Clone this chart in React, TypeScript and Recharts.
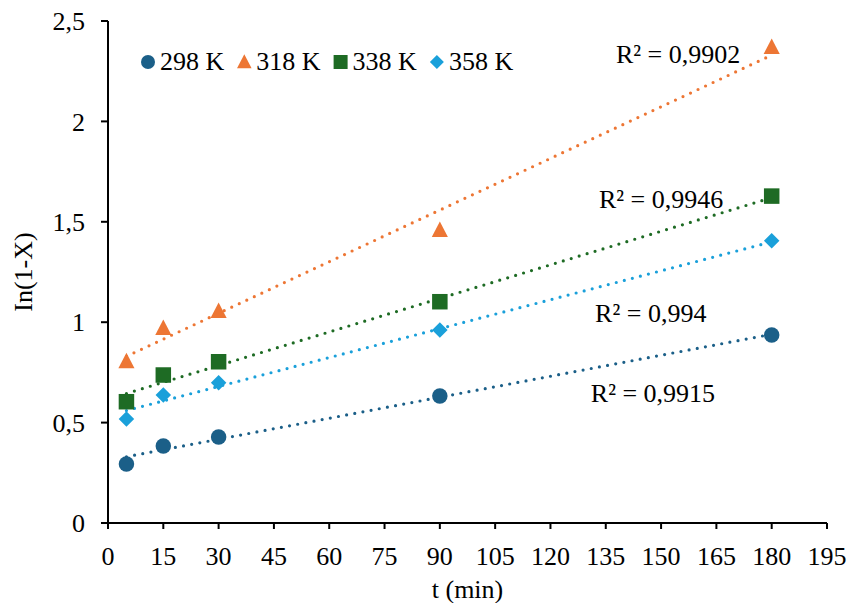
import {
  ComposedChart,
  XAxis,
  YAxis,
  Line,
  Scatter,
  Legend,
  ReferenceDot,
  Label,
} from "recharts";

// tempos de amostragem (min)
const times = [5, 15, 30, 90, 180];

// ln(1-X), por temperatura
const k298 = [0.294, 0.383, 0.428, 0.632, 0.936];
const k318 = [0.806, 0.971, 1.056, 1.459, 2.37];
const k338 = [0.604, 0.737, 0.803, 1.102, 1.628];
const k358 = [0.518, 0.637, 0.699, 0.961, 1.406];

// linhas de tendência: extremos (t = 5 e t = 180)
const trendTimes = [5, 180];
const trend298 = [0.33, 0.94];
const trend318 = [0.83, 2.33];
const trend338 = [0.645, 1.62];
const trend358 = [0.56, 1.4];

const r2Labels = ["R² = 0,9915", "R² = 0,9902", "R² = 0,9946", "R² = 0,994"];
const seriesNames = ["298 K", "318 K", "338 K", "358 K"];

const xTicks = [0, 15, 30, 45, 60, 75, 90, 105, 120, 135, 150, 165, 180, 195];
const yTicks = [0, 0.5, 1, 1.5, 2, 2.5];

const FONT = '"Liberation Serif", "Times New Roman", serif';
const COLORS = ["#1b5f88", "#ed7634", "#1e6b24", "#1aa0da"];
const SHAPES = ["circle", "triangle", "square", "diamond"];

const toPoints = (xs: number[], ys: number[]) =>
  xs.map((t, i) => ({ t, y: ys[i] }));

const points = [k298, k318, k338, k358].map((ys) => toPoints(times, ys));
const trends = [trend298, trend318, trend338, trend358].map((ys) =>
  toPoints(trendTimes, ys)
);

// desenha o marcador de cada série
function marker(kind: string, cx: number, cy: number, color: string, s: number) {
  if (kind === "circle") return <circle cx={cx} cy={cy} r={s / 2} fill={color} />;
  if (kind === "triangle")
    return (
      <polygon
        points={`${cx},${cy - s * 0.55} ${cx + s * 0.52},${cy + s * 0.45} ${cx - s * 0.52},${cy + s * 0.45}`}
        fill={color}
      />
    );
  if (kind === "square")
    return <rect x={cx - s / 2} y={cy - s / 2} width={s} height={s} fill={color} />;
  return (
    <polygon
      points={`${cx},${cy - s / 2} ${cx + s / 2},${cy} ${cx},${cy + s / 2} ${cx - s / 2},${cy}`}
      fill={color}
    />
  );
}

const LegendContent = () => (
  <svg width={400} height={34}>
    {seriesNames.map((name, i) => (
      <g key={name}>
        {marker(SHAPES[i], 10 + i * 96.3, 17, COLORS[i], 14)}
        <text x={22 + i * 96.3} y={25} fontSize={26} fontFamily={FONT} fill="#000">
          {name}
        </text>
      </g>
    ))}
  </svg>
);

const comma = (v: number) => String(v).replace(".", ",");

const r2Style = { fontSize: 26, fontFamily: FONT, fill: "#000" };

export default function App() {
  const tickStyle = { fontSize: 26, fontFamily: FONT, fill: "#000" };
  return (
    <div style={{ position: "absolute", left: 0, top: 0, fontFamily: FONT }}>
      <ComposedChart
        width={848}
        height={603}
        margin={{ top: 21, right: 21, left: 8, bottom: 0 }}
      >
        <XAxis
          type="number"
          dataKey="t"
          domain={[0, 195]}
          ticks={xTicks}
          interval={0}
          tick={tickStyle}
          tickSize={6}
          tickMargin={18}
          height={80}
          stroke="#000"
          strokeWidth={2}
        >
          <Label
            value="t (min)"
            position="insideBottom"
            offset={5}
            style={{ fontSize: 26, fontFamily: FONT, fill: "#000" }}
          />
        </XAxis>
        <YAxis
          type="number"
          dataKey="y"
          domain={[0, 2.5]}
          ticks={yTicks}
          interval={0}
          tickFormatter={comma}
          tick={{ ...tickStyle, dx: -12 }}
          tickSize={7}
          tickMargin={4}
          width={100}
          stroke="#000"
          strokeWidth={2}
        >
          <Label
            value="In(1-X)"
            angle={-90}
            position="insideLeft"
            dx={10}
            style={{ fontSize: 26, fontFamily: FONT, fill: "#000", textAnchor: "middle" }}
          />
        </YAxis>
        <Legend
          verticalAlign="middle"
          align="center"
          content={<LegendContent />}
          wrapperStyle={{ top: 45, left: 138, width: 400 }}
        />
        {trends.map((d, i) => (
          <Line
            key={"trend" + i}
            data={d}
            dataKey="y"
            type="linear"
            stroke={COLORS[i]}
            strokeWidth={3.2}
            strokeDasharray="0 8.3"
            strokeLinecap="round"
            dot={false}
            activeDot={false}
            legendType="none"
            isAnimationActive={false}
          />
        ))}
        {points.map((d, i) => (
          <Scatter
            key={"pts" + i}
            name={seriesNames[i]}
            data={d}
            dataKey="y"
            fill={COLORS[i]}
            shape={(p: any) => marker(SHAPES[i], p.cx, p.cy, COLORS[i], 15.5)}
            isAnimationActive={false}
          />
        ))}
        <ReferenceDot x={147.8} y={0.65} r={0} fill="none" stroke="none">
          <Label value={r2Labels[0]} position="center" style={r2Style} />
        </ReferenceDot>
        <ReferenceDot x={154.6} y={2.335} r={0} fill="none" stroke="none">
          <Label value={r2Labels[1]} position="center" style={r2Style} />
        </ReferenceDot>
        <ReferenceDot x={150} y={1.616} r={0} fill="none" stroke="none">
          <Label value={r2Labels[2]} position="center" style={r2Style} />
        </ReferenceDot>
        <ReferenceDot x={147.2} y={1.049} r={0} fill="none" stroke="none">
          <Label value={r2Labels[3]} position="center" style={r2Style} />
        </ReferenceDot>
      </ComposedChart>
    </div>
  );
}
